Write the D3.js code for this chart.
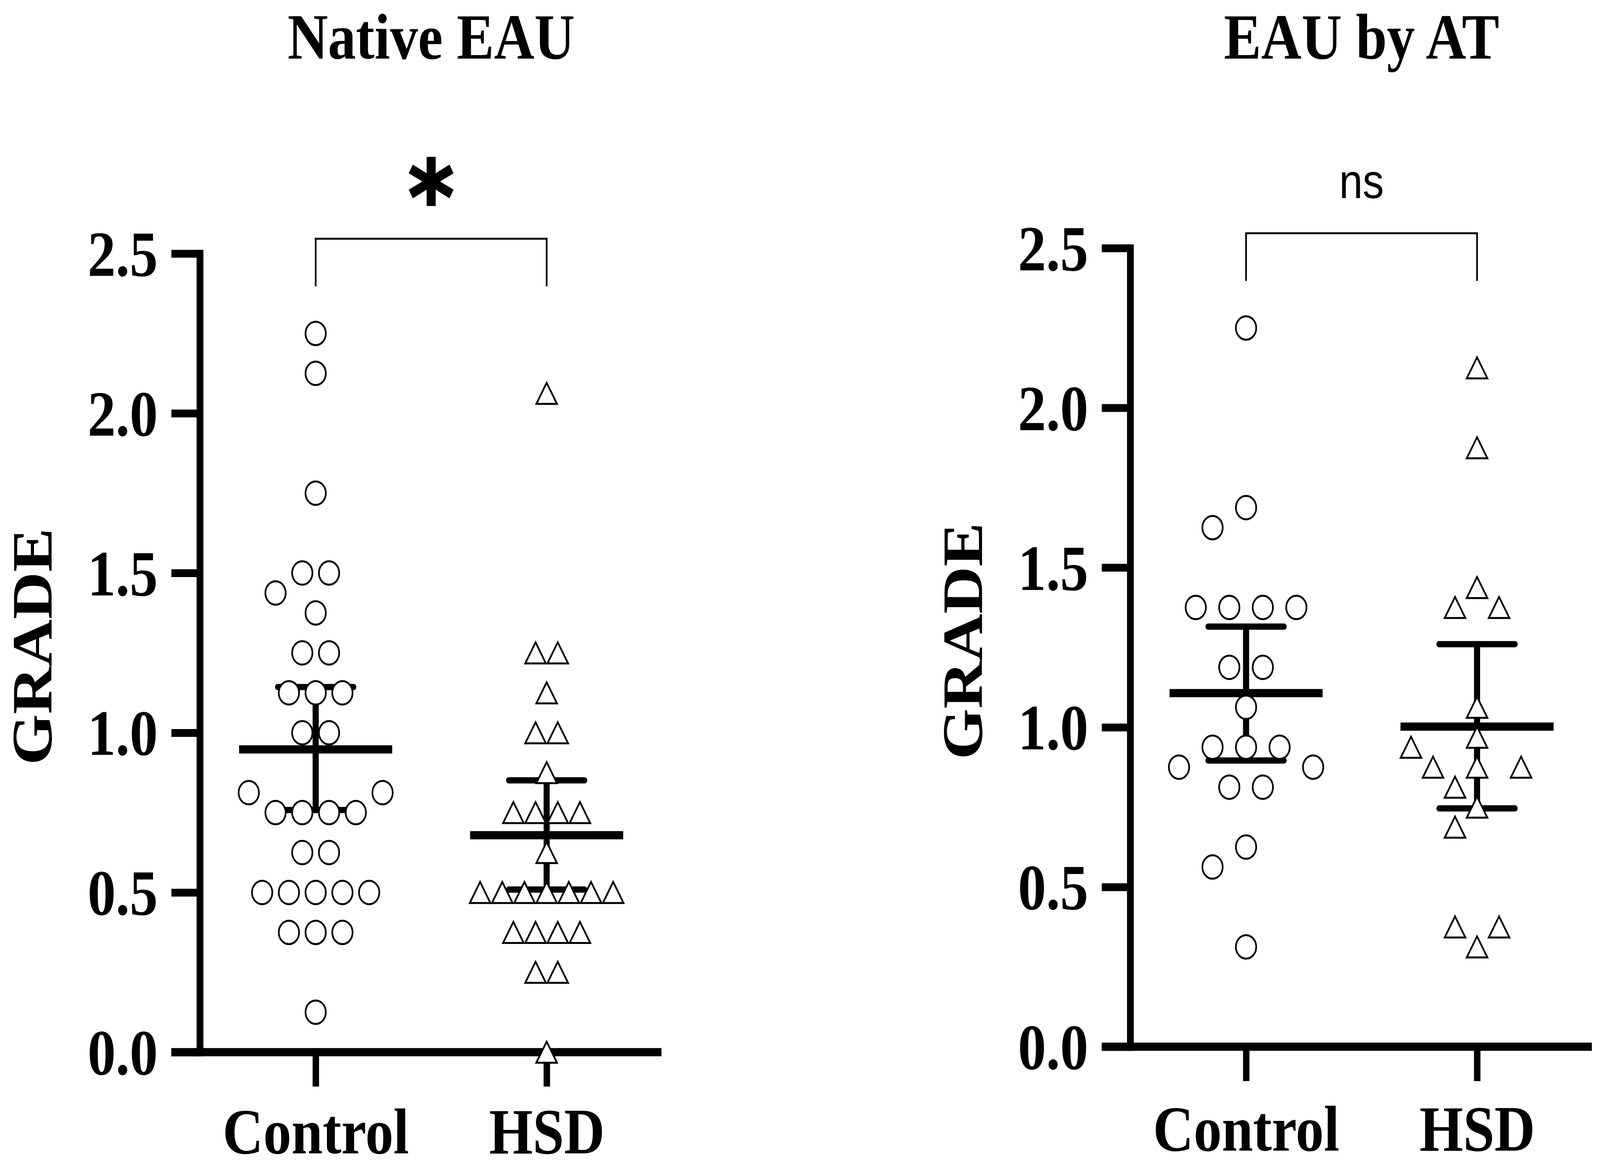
<!DOCTYPE html>
<html>
<head>
<meta charset="utf-8">
<script src="https://cdn.jsdelivr.net/npm/d3@7"></script>
<style>
  html, body { margin: 0; padding: 0; width: 100%; height: 100%; overflow: hidden; background: #fff; }
  #chart { width: 100%; height: 100%; }
  svg { display: block; }
</style>
</head>
<body>
<div id="chart"></div>
<script>
// grades
const groups = ["Control", "HSD"];
const titles = ["Native EAU", "EAU by AT"];
const sigLabels = ["*", "ns"];
const yTicks = [0, 0.5, 1.0, 1.5, 2.0, 2.5];

const nativeControl = [2.25, 2.125, 1.75, 1.5, 1.5, 1.4375, 1.375, 1.25, 1.25,
  1.125, 1.125, 1.125, 1.0, 1.0, 0.8125, 0.8125, 0.75, 0.75, 0.75, 0.75,
  0.625, 0.625, 0.5, 0.5, 0.5, 0.5, 0.5, 0.375, 0.375, 0.375, 0.125];
const nativeHSD = [2.0625, 1.25, 1.25, 1.125, 1.0, 1.0, 0.875, 0.75, 0.75, 0.75, 0.75,
  0.625, 0.5, 0.5, 0.5, 0.5, 0.5, 0.5, 0.5, 0.375, 0.375, 0.375, 0.375, 0.25, 0.25, 0];
const atControl = [2.25, 1.6875, 1.625, 1.375, 1.375, 1.375, 1.375, 1.1875, 1.1875,
  1.0625, 0.9375, 0.9375, 0.9375, 0.875, 0.875, 0.8125, 0.8125, 0.625, 0.5625, 0.3125];
const atHSD = [2.125, 1.875, 1.4375, 1.375, 1.375, 1.0625, 0.96875, 0.9375, 0.875,
  0.875, 0.875, 0.8125, 0.75, 0.6875, 0.375, 0.375, 0.3125];

// mean and 95% CI bars as drawn
const nativeMean = [0.948, 0.679];
const nativeLow = [0.758, 0.509];
const nativeHigh = [1.143, 0.851];
const atMean = [1.107, 1.002];
const atLow = [0.896, 0.746];
const atHigh = [1.315, 1.26];

const W = 4724, H = 2992;
const serif = "'Liberation Serif', 'Times New Roman', serif";
const sans = "'Liberation Sans', Arial, sans-serif";

// the window can be narrower than the figure, so the figure is stretched to fill it
const svg = d3.select("#chart").append("svg")
  .attr("width", "100%").attr("height", "100%")
  .attr("viewBox", [0, 0, W, H])
  .attr("preserveAspectRatio", "none")
  .style("background", "#fff");

const panels = [
  { title: titles[0], sig: sigLabels[0], sigFont: "'DejaVu Sans', sans-serif", sigSize: 260,
    sigWeight: "bold", sigY: 597, sigStroke: 5,
    data: [nativeControl, nativeHSD], mean: nativeMean, low: nativeLow, high: nativeHigh,
    dx: 0, dy: 0, unit: [79, 65.5], gap: [77, 64] },
  { title: titles[1], sig: sigLabels[1], sigFont: sans, sigSize: 125,
    sigWeight: "normal", sigY: 521, sigStroke: 0,
    data: [atControl, atHSD], mean: atMean, low: atLow, high: atHigh,
    dx: 2747, dy: -14, unit: [99, 130], gap: [97, 75] }
];

const axisX = 590, yBottom = 2693, yTop = 649;
const xAxisStart = 506, xAxisEnd = 1953;

const y = d3.scaleLinear().domain([0, 2.5]).range([yBottom, yTop]);
const x = d3.scalePoint().domain(groups).range([932, 1614]);

// rows of equal values are centred; a row that hits earlier points is shifted or split
function swarm(values, unit, gap) {
  const rows = d3.groups(values, v => v)
    .sort((a, b) => d3.descending(a[1].length, b[1].length) || d3.descending(a[0], b[0]));
  const placed = [];
  const free = pts => pts.every(p => placed.every(q => Math.hypot(p.off - q.off, p.py - q.py) >= gap - 0.01));
  for (const [v, list] of rows) {
    const n = list.length, py = y(v);
    const base = d3.range(n).map(i => (i - (n - 1) / 2) * unit);
    let chosen = null;
    for (let k = 0; k < 40 && !chosen; k++) {
      const s = k * unit / 2;
      const options = k === 0 ? [base] : [base.map(o => o - s), base.map(o => o + s)];
      if (k > 0 && n > 1) options.push(base.map(o => o + Math.sign(o) * s));
      for (const offs of options) {
        const pts = offs.map(off => ({ value: v, off, py }));
        if (free(pts)) { chosen = pts; break; }
      }
    }
    placed.push(...chosen);
  }
  return placed;
}

const triangle = (w, h) => {
  const p = d3.path();
  p.moveTo(0, -h / 2);
  p.lineTo(w / 2, h / 2);
  p.lineTo(-w / 2, h / 2);
  p.closePath();
  return p.toString();
};

panels.forEach(panel => {
  const g = svg.append("g").attr("transform", `translate(${panel.dx},${panel.dy})`);

  // title (same baseline for both panels)
  g.append("text")
    .attr("x", (x(groups[0]) + x(groups[1])) / 2)
    .attr("y", 150 - panel.dy)
    .attr("text-anchor", "middle")
    .attr("font-family", serif)
    .attr("font-weight", "bold")
    .attr("font-size", 165)
    .text(panel.title);

  // y axis
  const yAxis = g.append("g")
    .attr("transform", `translate(${axisX},0)`)
    .call(d3.axisLeft(y).tickValues(yTicks).tickFormat(d3.format(".1f"))
      .tickSize(84).tickSizeOuter(0).tickPadding(40));
  yAxis.select(".domain").attr("stroke-width", 20).attr("stroke-linecap", "square");
  yAxis.selectAll(".tick line").attr("stroke-width", 20);
  yAxis.selectAll(".tick text")
    .attr("font-family", serif).attr("font-weight", "bold").attr("font-size", 166)
    .attr("fill", "#000").attr("dy", "0.34em");

  // x axis
  const xAxis = g.append("g")
    .attr("transform", `translate(0,${yBottom})`)
    .call(d3.axisBottom(x).tickSize(88).tickSizeOuter(0));
  xAxis.select(".domain").remove();
  xAxis.selectAll(".tick line").attr("stroke-width", 19);
  xAxis.selectAll(".tick text")
    .attr("font-family", serif).attr("font-weight", "bold").attr("font-size", 166)
    .attr("fill", "#000").attr("y", 2952 - yBottom - panel.dy / 2).attr("dy", 0);
  g.append("line")
    .attr("x1", xAxisStart).attr("x2", xAxisEnd)
    .attr("y1", yBottom).attr("y2", yBottom)
    .attr("stroke", "#000").attr("stroke-width", 21);

  // axis title
  g.append("text")
    .attr("transform", `translate(152,1655) rotate(-90)`)
    .attr("text-anchor", "middle")
    .attr("font-family", serif)
    .attr("font-weight", "bold")
    .attr("font-size", 168)
    .text("GRADE");

  // significance bracket
  const bx1 = x(groups[0]), bx2 = x(groups[1]);
  g.append("path")
    .attr("d", d3.line()([[bx1, 733], [bx1, 611], [bx2, 611], [bx2, 733]]))
    .attr("fill", "none").attr("stroke", "#000").attr("stroke-width", 5);
  g.append("text")
    .attr("x", (bx1 + bx2) / 2)
    .attr("y", panel.sigY)
    .attr("text-anchor", "middle")
    .attr("font-family", panel.sigFont)
    .attr("font-weight", panel.sigWeight)
    .attr("font-size", panel.sigSize)
    .attr("stroke", panel.sigStroke ? "#000" : "none")
    .attr("stroke-width", panel.sigStroke)
    .text(panel.sig);

  // mean with 95% CI
  groups.forEach((grp, i) => {
    const cx = x(grp);
    const bars = g.append("g").attr("stroke", "#000");
    bars.append("line")
      .attr("x1", cx).attr("x2", cx)
      .attr("y1", y(panel.low[i])).attr("y2", y(panel.high[i]))
      .attr("stroke-width", 18);
    bars.selectAll("line.cap")
      .data([panel.low[i], panel.high[i]])
      .join("line")
      .attr("class", "cap")
      .attr("x1", cx - 112).attr("x2", cx + 112)
      .attr("y1", d => y(d)).attr("y2", d => y(d))
      .attr("stroke-width", 16).attr("stroke-linecap", "round");
    bars.append("line")
      .attr("x1", cx - 226).attr("x2", cx + 226)
      .attr("y1", y(panel.mean[i])).attr("y2", y(panel.mean[i]))
      .attr("stroke-width", 21);
  });

  // points
  const ctrl = swarm(panel.data[0], panel.unit[0], panel.gap[0]);
  g.append("g").selectAll("circle")
    .data(ctrl)
    .join("circle")
    .attr("cx", d => x(groups[0]) + d.off)
    .attr("cy", d => d.py)
    .attr("r", 30)
    .attr("fill", "#fff").attr("stroke", "#000").attr("stroke-width", 5);

  const hsd = swarm(panel.data[1], panel.unit[1], panel.gap[1]);
  g.append("g").selectAll("path")
    .data(hsd)
    .join("path")
    .attr("transform", d => `translate(${x(groups[1]) + d.off},${d.py})`)
    .attr("d", triangle(61, 54))
    .attr("fill", "#fff").attr("stroke", "#000").attr("stroke-width", 5)
    .attr("stroke-linejoin", "miter");
});
</script>
</body>
</html>
